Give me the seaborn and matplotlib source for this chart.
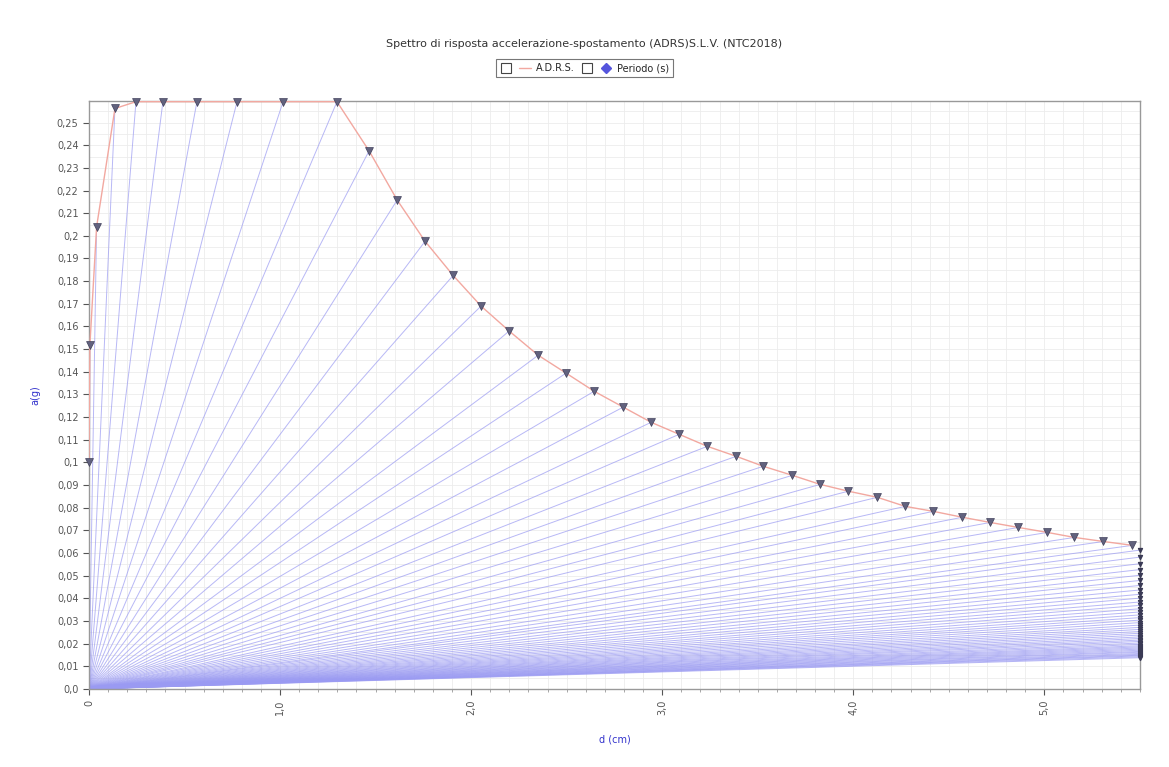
import matplotlib
matplotlib.use("Agg")
import matplotlib.pyplot as plt
from matplotlib.lines import Line2D
from matplotlib.legend_handler import HandlerTuple
from matplotlib.ticker import MultipleLocator, FuncFormatter
import seaborn as sns
import pandas as pd

# ADRS points (d in cm, a in g)
adrs_d = [0.0, 0.005, 0.040, 0.136, 0.246, 0.387, 0.565, 0.775, 1.016, 1.298,
          1.466, 1.613, 1.759, 1.906, 2.052, 2.199, 2.351, 2.497, 2.644, 2.796,
          2.942, 3.089, 3.236, 3.387, 3.529, 3.681, 3.827, 3.974, 4.126, 4.272,
          4.419, 4.571, 4.717, 4.864, 5.016, 5.157, 5.309, 5.461]
adrs_a = [0.100, 0.152, 0.204, 0.2562, 0.2592, 0.2592, 0.2592, 0.2592, 0.2592, 0.2592,
          0.2375, 0.2158, 0.1976, 0.1825, 0.1690, 0.1580, 0.1473, 0.1394, 0.1314, 0.1244,
          0.1177, 0.1124, 0.1071, 0.1027, 0.0983, 0.0943, 0.0903, 0.0873, 0.0846, 0.0806,
          0.0784, 0.0758, 0.0735, 0.0713, 0.0691, 0.0669, 0.0651, 0.0634]

# period lines that leave the plot: value of a where they cross the right edge
edge_a = [0.0613, 0.0582, 0.0553, 0.0527, 0.0502, 0.0479, 0.0457, 0.0437, 0.0418,
          0.0401, 0.0384, 0.0369, 0.0354, 0.0340, 0.0327, 0.0315, 0.0304, 0.0293,
          0.0282, 0.0272, 0.0263, 0.0254, 0.0246, 0.0238, 0.0230, 0.0223, 0.0216,
          0.0210, 0.0203, 0.0197, 0.0191, 0.0186, 0.0181, 0.0176, 0.0171, 0.0166,
          0.0162, 0.0157, 0.0153, 0.0149, 0.0146, 0.0142, 0.0138]

d_max = 5.5
a_max = 0.2595

sns.set_style("white")
plt.rcParams['font.family'] = ['DejaVu Sans']

fig = plt.figure(figsize=(11.69, 7.67), dpi=100)
ax = fig.add_axes([0.0761, 0.1017, 0.8990, 0.7666])

line_col = '#9a9af2'
for d, a in zip(adrs_d, adrs_a):
    ax.plot([0, d], [0, a], color=line_col, lw=0.7, alpha=0.7, zorder=2)
for a in edge_a:
    ax.plot([0, d_max], [0, a], color=line_col, lw=0.7, alpha=0.7, zorder=2)

df = pd.DataFrame({'d': adrs_d, 'a': adrs_a})
sns.lineplot(data=df, x='d', y='a', sort=False, color='#f2a8a0', lw=1.0, ax=ax, zorder=3)
sns.scatterplot(data=df, x='d', y='a', marker='v', s=32, color='#62627e',
                edgecolor='#3f3f5a', linewidth=0.5, ax=ax, zorder=4, clip_on=False)
ax.scatter([d_max] * len(edge_a), edge_a, marker='v', s=8, color='#3a3a55',
           zorder=4, clip_on=False)

ax.set_xlim(0, d_max)
ax.set_ylim(0, a_max)

ax.xaxis.set_major_locator(MultipleLocator(1.0))
ax.xaxis.set_minor_locator(MultipleLocator(0.1))
ax.yaxis.set_major_locator(MultipleLocator(0.01))
ax.yaxis.set_minor_locator(MultipleLocator(0.005))


def fmt_y(v, pos):
    if abs(v) < 1e-9:
        return "0,0"
    s = ("%.2f" % v).rstrip('0').rstrip('.')
    return s.replace('.', ',')


def fmt_x(v, pos):
    if abs(v) < 1e-9:
        return "0"
    return ("%.1f" % v).replace('.', ',')


ax.yaxis.set_major_formatter(FuncFormatter(fmt_y))
ax.xaxis.set_major_formatter(FuncFormatter(fmt_x))

ax.grid(which='both', color='#ececec', lw=0.6, zorder=0)
ax.set_axisbelow(True)
ax.tick_params(axis='both', which='major', labelsize=7, colors='#555555',
               length=4, direction='out', left=True, bottom=True)
ax.tick_params(axis='both', which='minor', length=2, color='#999999',
               left=False, bottom=True)
ax.tick_params(axis='x', labelrotation=90)
for sp in ax.spines.values():
    sp.set_color('#999999')
    sp.set_linewidth(1.0)

ax.set_xlabel('d (cm)', fontsize=7, color='#3333cc', labelpad=14)
ax.set_ylabel('a(g)', fontsize=7, color='#3333cc', labelpad=12)

fig.text(0.5, 0.942, 'Spettro di risposta accelerazione-spostamento (ADRS)S.L.V. (NTC2018)',
         ha='center', va='center', fontsize=8, color='#333333')

box = Line2D([], [], marker='s', ls='none', markersize=7, markerfacecolor='white',
             markeredgecolor='#444444', markeredgewidth=0.8)
adrs_h = Line2D([], [], color='#f2a8a0', lw=1.0)
per_h = Line2D([], [], marker='D', ls='none', markersize=5, color='#5555dd')
leg = fig.legend([(box, adrs_h), (box, per_h)], ['A.D.R.S.', 'Periodo (s)'],
                 handler_map={tuple: HandlerTuple(ndivide=None, pad=0.6)},
                 loc='center', bbox_to_anchor=(0.5, 0.911), ncol=2, fontsize=7,
                 frameon=True, fancybox=False, edgecolor='#555555',
                 handlelength=3.2, handletextpad=0.5, columnspacing=0.6,
                 borderpad=0.4)
leg.get_frame().set_linewidth(0.8)

fig.savefig('out.png', dpi=100)
